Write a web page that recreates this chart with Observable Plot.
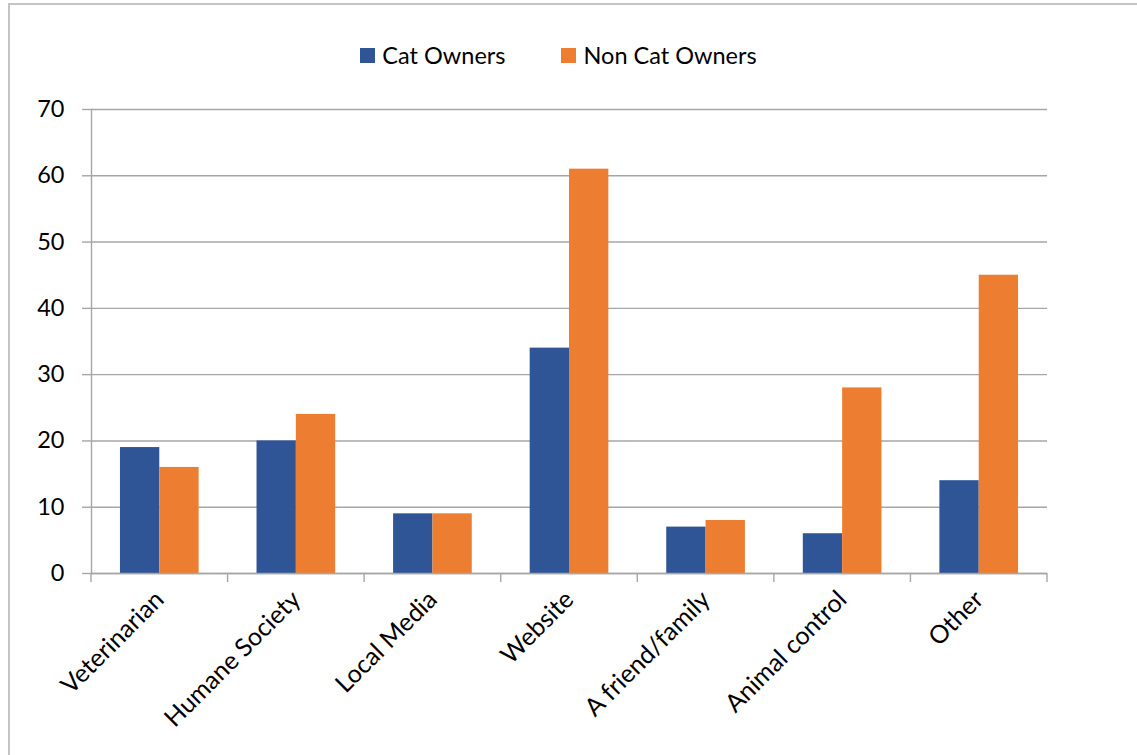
<!DOCTYPE html>
<html>
<head>
<meta charset="utf-8">
<script src="https://cdn.jsdelivr.net/npm/d3@7"></script>
<script src="https://cdn.jsdelivr.net/npm/@observablehq/plot@0.6"></script>
<style>
  html, body { margin: 0; padding: 0; background: #fff; }
  #wrap { position: relative; width: 1137px; height: 755px; overflow: hidden; font-family: Lato, "Liberation Sans", sans-serif; }
  #border { position: absolute; left: 8px; top: 3px; width: 1200px; height: 800px; border-top: 2px solid #C4C4C4; border-left: 2px solid #C4C4C4; box-sizing: border-box; }
  #legend { position: absolute; top: 41px; left: -10px; width: 1137px; display: flex; justify-content: center; font-size: 23.5px; color: #000; }
  .item { display: flex; align-items: center; margin: 0 28px; }
  .sw { width: 15px; height: 15px; margin-right: 7px; }
  #chart { position: absolute; left: 0; top: 0; }
</style>
</head>
<body>
<div id="wrap">
  <div id="border"></div>
  <div id="chart"></div>
  <div id="legend"></div>
</div>
<script>
const categories = ["Veterinarian", "Humane Society", "Local Media", "Website", "A friend/family", "Animal control", "Other"];
const series = ["Cat Owners", "Non Cat Owners"];
const catOwners = [19, 20, 9, 34, 7, 6, 14];
const nonCatOwners = [16, 24, 9, 61, 8, 28, 45];
const yTicks = [0, 10, 20, 30, 40, 50, 60, 70];
const colors = ["#2F5597", "#ED7D31"];

const W = 1137, H = 755;
const mL = 91, mR = 90, mT = 109, mB = 182;
const step = (W - mL - mR) / categories.length;
const outerInset = step * 0.212;
const half = step * 0.5;

const data = [];
categories.forEach((c, i) => {
  data.push({category: c, series: series[0], value: catOwners[i]});
  data.push({category: c, series: series[1], value: nonCatOwners[i]});
});

const plot = Plot.plot({
  width: W, height: H,
  marginLeft: mL, marginRight: mR, marginTop: mT, marginBottom: mB,
  style: {fontFamily: "Lato, 'Liberation Sans', sans-serif", fontSize: "23.5px", color: "#000", background: "transparent"},
  x: {domain: categories, padding: 0, round: false, label: null},
  y: {domain: [0, 70], label: null},
  color: {domain: series, range: colors},
  marks: [
    Plot.ruleY(yTicks, {stroke: "#A6A6A6", strokeWidth: 1.4}),
    Plot.frame({anchor: "left", stroke: "#A6A6A6", strokeWidth: 1.4}),
    Plot.barY(data.filter(d => d.series === series[0]), {x: "category", y: "value", fill: colors[0], insetLeft: outerInset, insetRight: half}),
    Plot.barY(data.filter(d => d.series === series[1]), {x: "category", y: "value", fill: colors[1], insetLeft: half, insetRight: outerInset}),
    Plot.ruleY([0], {stroke: "#A6A6A6", strokeWidth: 1.4}),
    Plot.axisY({ticks: yTicks, tickSize: 9, tickPadding: 18, stroke: "#A6A6A6", strokeWidth: 1.4, fill: "#000", tickFormat: d => String(d), label: null}),
    Plot.axisX({tickSize: 0, tickPadding: 22, tickRotate: -45, fill: "#000", fontSize: 25, label: null})
  ]
});

// boundary tick marks between categories, placed through the plot's own scales
const xs = plot.scale("x"), ys = plot.scale("y");
const y0 = ys.apply(0);
const bounds = categories.map(c => xs.apply(c)).concat([xs.range[1]]);
d3.select(plot).append("g")
  .selectAll("line").data(bounds).join("line")
  .attr("x1", d => d).attr("x2", d => d)
  .attr("y1", y0).attr("y2", y0 + 9)
  .attr("stroke", "#A6A6A6").attr("stroke-width", 1.4);

document.getElementById("chart").appendChild(plot);

const legend = d3.select("#legend");
series.forEach((s, i) => {
  const it = legend.append("div").attr("class", "item");
  it.append("div").attr("class", "sw").style("background", colors[i]);
  it.append("span").text(s);
});
</script>
</body>
</html>
